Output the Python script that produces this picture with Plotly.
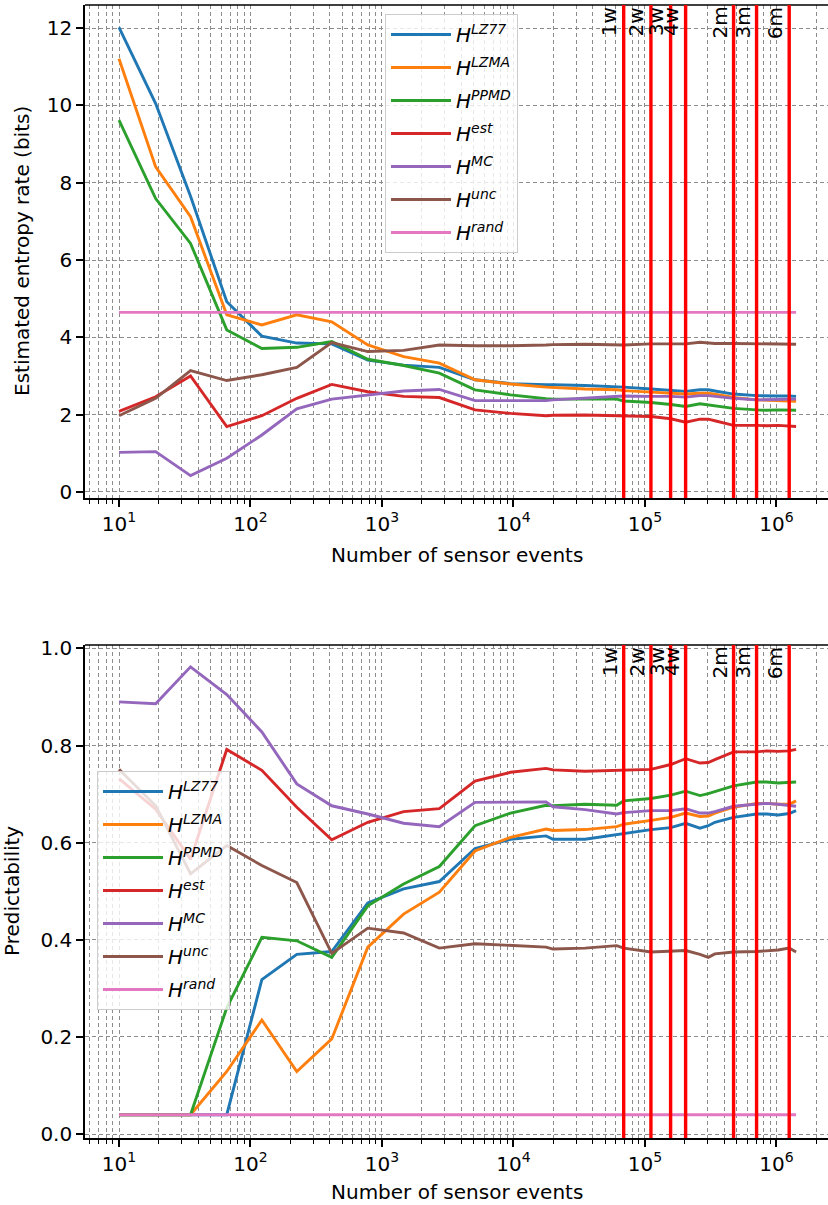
import math
import plotly.graph_objects as go

# ---------------- data ----------------
events = [10, 19, 35, 66, 122, 225, 415, 780, 1460, 2730, 5100, 9500, 17700, 20000, 35000,
          61000, 68900, 111000, 157000, 204000, 262000, 303000, 340000, 472000, 706000,
          841000, 1030000, 1250000, 1410000]

series_names = ["LZ77", "LZMA", "PPMD", "est", "MC", "unc", "rand"]
colors = ["#1f77b4", "#ff7f0e", "#2ca02c", "#d62728", "#9467bd", "#8c564b", "#e377c2"]

# Entropy rate (bits)
H_lz77 = [12.02, 10.05, 7.65, 4.92, 4.03, 3.85, 3.83, 3.41, 3.28, 3.22, 2.90, 2.80, 2.77, 2.77, 2.75,
          2.72, 2.71, 2.66, 2.63, 2.60, 2.64, 2.64, 2.61, 2.53, 2.49, 2.48, 2.48, 2.48, 2.47]
H_lzma = [11.21, 8.41, 7.12, 4.58, 4.32, 4.58, 4.40, 3.80, 3.50, 3.33, 2.90, 2.79, 2.71, 2.70, 2.66,
          2.64, 2.62, 2.58, 2.55, 2.53, 2.55, 2.55, 2.53, 2.44, 2.38, 2.37, 2.36, 2.35, 2.34]
H_ppmd = [9.62, 7.59, 6.43, 4.19, 3.71, 3.74, 3.89, 3.43, 3.27, 3.07, 2.64, 2.51, 2.41, 2.40, 2.40,
          2.40, 2.35, 2.31, 2.26, 2.21, 2.28, 2.25, 2.22, 2.16, 2.12, 2.11, 2.12, 2.12, 2.11]
H_est = [2.08, 2.46, 3.00, 1.69, 1.97, 2.42, 2.78, 2.59, 2.47, 2.44, 2.12, 2.03, 1.97, 1.98, 1.99,
         1.97, 1.97, 1.95, 1.89, 1.80, 1.88, 1.88, 1.84, 1.72, 1.72, 1.71, 1.72, 1.70, 1.69]
H_mc = [1.02, 1.04, 0.42, 0.87, 1.47, 2.15, 2.40, 2.51, 2.61, 2.65, 2.36, 2.36, 2.36, 2.38, 2.42,
        2.47, 2.48, 2.47, 2.47, 2.45, 2.49, 2.49, 2.47, 2.42, 2.38, 2.38, 2.39, 2.40, 2.40]
H_unc = [1.97, 2.42, 3.14, 2.88, 3.03, 3.22, 3.86, 3.63, 3.66, 3.80, 3.78, 3.78, 3.80, 3.81, 3.82,
         3.79, 3.80, 3.83, 3.83, 3.83, 3.87, 3.86, 3.84, 3.84, 3.83, 3.83, 3.81, 3.81, 3.82]
H_rand = [4.644] * len(events)

# Predictability
P_lz77 = [0.04, 0.04, 0.04, 0.04, 0.318, 0.370, 0.376, 0.476, 0.505, 0.520, 0.588, 0.607, 0.614, 0.607, 0.607,
          0.616, 0.619, 0.627, 0.631, 0.640, 0.630, 0.635, 0.642, 0.652, 0.659, 0.659, 0.657, 0.660, 0.666]
P_lzma = [0.04, 0.04, 0.04, 0.129, 0.235, 0.129, 0.196, 0.385, 0.453, 0.498, 0.583, 0.611, 0.628, 0.625, 0.627,
          0.633, 0.638, 0.646, 0.652, 0.661, 0.654, 0.655, 0.661, 0.673, 0.681, 0.681, 0.679, 0.679, 0.686]
P_ppmd = [0.04, 0.04, 0.04, 0.26, 0.405, 0.398, 0.364, 0.470, 0.515, 0.551, 0.635, 0.661, 0.677, 0.676, 0.679,
          0.677, 0.686, 0.691, 0.698, 0.706, 0.697, 0.701, 0.705, 0.717, 0.725, 0.725, 0.723, 0.724, 0.725]
P_est = [0.732, 0.669, 0.566, 0.792, 0.749, 0.673, 0.606, 0.642, 0.664, 0.670, 0.727, 0.745, 0.753, 0.750, 0.747,
         0.749, 0.749, 0.751, 0.761, 0.773, 0.764, 0.765, 0.771, 0.787, 0.787, 0.789, 0.788, 0.789, 0.792]
P_mc = [0.890, 0.886, 0.962, 0.905, 0.828, 0.721, 0.676, 0.659, 0.640, 0.633, 0.683, 0.684, 0.684, 0.674, 0.668,
        0.659, 0.662, 0.666, 0.666, 0.670, 0.661, 0.661, 0.664, 0.675, 0.679, 0.681, 0.679, 0.677, 0.675]
P_unc = [0.751, 0.676, 0.536, 0.594, 0.553, 0.518, 0.372, 0.424, 0.414, 0.383, 0.392, 0.389, 0.385, 0.381, 0.383,
         0.388, 0.383, 0.375, 0.377, 0.378, 0.370, 0.364, 0.371, 0.375, 0.376, 0.377, 0.379, 0.383, 0.375]
P_rand = [0.04] * len(events)

# Period markers (number of events after 1w, 2w, ...)
period_labels = ["1w", "2w", "3w", "4w", "2m", "3m", "6m"]
period_events = [68900, 111000, 156700, 203800, 472000, 706000, 1250000]

x_tickvals = [10, 100, 1000, 10000, 100000, 1000000]
x_ticktext = ["10<sup>1</sup>", "10<sup>2</sup>", "10<sup>3</sup>", "10<sup>4</sup>",
              "10<sup>5</sup>", "10<sup>6</sup>"]

# ---------------- figure ----------------
W, H = 828, 1205
FONT = "DejaVu Sans"
GRID = "#8c8c8c"
DASH = "4px,3px"

H_series = [H_lz77, H_lzma, H_ppmd, H_est, H_mc, H_unc, H_rand]
P_series = [P_lz77, P_lzma, P_ppmd, P_est, P_mc, P_unc, P_rand]

fig = go.Figure()
for name, col, ys in zip(series_names, colors, H_series):
    fig.add_trace(go.Scatter(x=events, y=ys, mode="lines", line=dict(color=col, width=2.9),
                             name="<i>H</i><sup><i>%s</i></sup>" % name, legendgroup="t" + name,
                             xaxis="x", yaxis="y", legend="legend"))
for name, col, ys in zip(series_names, colors, P_series):
    fig.add_trace(go.Scatter(x=events, y=ys, mode="lines", line=dict(color=col, width=2.9),
                             name="<i>H</i><sup><i>%s</i></sup>" % name, legendgroup="b" + name,
                             xaxis="x2", yaxis="y2", legend="legend2"))

minor_vals = [m * 10 ** e for e in range(0, 7) for m in range(2, 10)]

def xaxis_cfg(anchor):
    return dict(type="log", range=[0.7414, 6.392], domain=[85 / W, 1.0], anchor=anchor,
                automargin=False,
                tickmode="array", tickvals=x_tickvals, ticktext=x_ticktext,
                ticks="outside", ticklen=7, tickwidth=1.6, tickcolor="black",
                showline=True, linecolor="black", linewidth=1.6, mirror=False,
                showgrid=True, gridcolor=GRID, griddash=DASH, gridwidth=1,
                minor=dict(tickmode="array", tickvals=minor_vals, ticks="outside", ticklen=4,
                           tickwidth=1, tickcolor="black", showgrid=True, gridcolor=GRID,
                           griddash=DASH, gridwidth=1),
                tickfont=dict(family=FONT, size=20, color="black"), zeroline=False)

def yaxis_cfg(anchor, dom, rng, dtick, fmt):
    return dict(range=rng, domain=dom, anchor=anchor, dtick=dtick, tick0=0, tickformat=fmt,
                automargin=False,
                ticks="outside", ticklen=7, tickwidth=1.6, tickcolor="black",
                showline=True, linecolor="black", linewidth=1.6, mirror=False,
                showgrid=True, gridcolor=GRID, griddash=DASH, gridwidth=1,
                tickfont=dict(family=FONT, size=20, color="black"), zeroline=False)

legend_common = dict(xanchor="left", yanchor="top",
                     bgcolor="rgba(255,255,255,0.8)", bordercolor="#cccccc", borderwidth=1,
                     font=dict(family=FONT, size=20, color="black"), tracegroupgap=4,
                     entrywidth=96, entrywidthmode="pixels", itemwidth=60)

fig.update_layout(
    width=W, height=H, margin=dict(l=0, r=0, t=0, b=0, autoexpand=False),
    paper_bgcolor="white", plot_bgcolor="white",
    font=dict(family=FONT, size=20, color="black"),
    xaxis=xaxis_cfg("y"),
    yaxis=yaxis_cfg("x", [1 - 498 / H, 1 - 5 / H], [-0.16, 12.6], 2, "d"),
    xaxis2=xaxis_cfg("y2"),
    yaxis2=yaxis_cfg("x2", [1 - 1138 / H, 1 - 645 / H], [-0.008, 1.007], 0.2, ".1f"),
    legend=dict(x=385 / W, y=1 - 14 / H, **legend_common),
    legend2=dict(x=97 / W, y=1 - 771 / H, **legend_common),
    showlegend=True,
)

# top spines
for xr, yr in [("x", "y"), ("x2", "y2")]:
    fig.add_shape(type="line", xref=xr + " domain", yref=yr + " domain", x0=0, x1=1, y0=1, y1=1,
                  line=dict(color="black", width=1.6), layer="above")

# period lines and labels
for xr, yr in [("x", "y"), ("x2", "y2")]:
    for lab, ev in zip(period_labels, period_events):
        fig.add_shape(type="line", xref=xr, yref=yr + " domain", x0=ev, x1=ev, y0=0, y1=1,
                      line=dict(color="#ff0000", width=3.4), layer="above")
        fig.add_annotation(x=math.log10(ev), y=1, xref=xr, yref=yr + " domain", text=lab,
                           showarrow=False, textangle=-90, xanchor="right", yanchor="top",
                           xshift=-1, yshift=-1, borderpad=0,
                           font=dict(family=FONT, size=20, color="black"))

# axis titles
fig.add_annotation(x=22 / W, y=1 - 251 / H, xref="paper", yref="paper", text="Estimated entropy rate (bits)",
                   showarrow=False, textangle=-90, xanchor="center", yanchor="middle",
                   font=dict(family=FONT, size=20, color="black"))
fig.add_annotation(x=12 / W, y=1 - 891 / H, xref="paper", yref="paper", text="Predictability",
                   showarrow=False, textangle=-90, xanchor="center", yanchor="middle",
                   font=dict(family=FONT, size=20, color="black"))
fig.add_annotation(x=457 / W, y=1 - 555 / H, xref="paper", yref="paper", text="Number of sensor events",
                   showarrow=False, xanchor="center", yanchor="middle",
                   font=dict(family=FONT, size=20, color="black"))
fig.add_annotation(x=457 / W, y=1 - 1192 / H, xref="paper", yref="paper", text="Number of sensor events",
                   showarrow=False, xanchor="center", yanchor="middle",
                   font=dict(family=FONT, size=20, color="black"))

fig.write_html("out.html", config={"displayModeBar": False},
               post_script="document.body.style.margin='0px';")
